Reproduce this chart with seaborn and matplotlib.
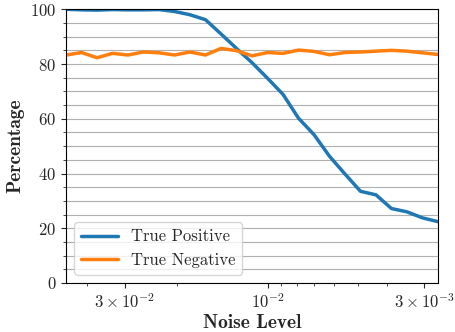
import numpy as np
import pandas as pd
import matplotlib
matplotlib.use("Agg")
import matplotlib.pyplot as plt
import matplotlib.ticker as mticker
import seaborn as sns

# Noise levels (log-spaced)
noise_level = [0.04713, 0.04183, 0.03714, 0.03296, 0.02926, 0.02597, 0.02305,
               0.02046, 0.01816, 0.01612, 0.01431, 0.01270, 0.01127, 0.01000,
               0.008876, 0.007878, 0.006993, 0.006207, 0.005508, 0.004889,
               0.004340, 0.003852, 0.003419, 0.003035, 0.002693]

true_positive = [100.0, 99.8, 99.7, 99.9, 99.8, 99.8, 99.9, 99.2, 98.0, 96.2,
                 91.0, 85.7, 80.5, 74.8, 68.9, 60.2, 54.2, 46.3, 39.8, 33.5,
                 32.2, 27.2, 26.0, 23.8, 22.4]

true_negative = [83.3, 84.2, 82.3, 83.9, 83.3, 84.4, 84.1, 83.3, 84.4, 83.3,
                 85.7, 84.9, 83.0, 84.2, 83.9, 85.1, 84.6, 83.4, 84.2, 84.4,
                 84.7, 85.0, 84.7, 84.1, 83.5]

series_names = ["True Positive", "True Negative"]

df = pd.DataFrame({
    "noise": noise_level * 2,
    "value": true_positive + true_negative,
    "series": [series_names[0]] * len(noise_level) + [series_names[1]] * len(noise_level),
})

sns.set_style("ticks")
plt.rcParams["font.family"] = "serif"
plt.rcParams["font.serif"] = ["cmr10"]
plt.rcParams["mathtext.fontset"] = "cm"
plt.rcParams["axes.formatter.use_mathtext"] = True
plt.rcParams["axes.unicode_minus"] = False

fig, ax = plt.subplots(figsize=(4.56, 3.32), dpi=100)
fig.subplots_adjust(left=0.145, right=0.9605, top=0.972, bottom=0.1476)

sns.lineplot(data=df, x="noise", y="value", hue="series",
             palette=["#1f77b4", "#ff7f0e"], linewidth=2.5, ax=ax)

ax.set_xscale("log")
ax.set_xlim(noise_level[0], noise_level[-1])
ax.set_ylim(0, 100)

# x ticks
ax.xaxis.set_major_locator(mticker.FixedLocator([3e-2, 1e-2, 3e-3]))
ax.xaxis.set_major_formatter(mticker.FixedFormatter(
    [r"$3\times10^{-2}$", r"$10^{-2}$", r"$3\times10^{-3}$"]))
ax.xaxis.set_minor_locator(mticker.LogLocator(base=10, subs=np.arange(2, 10)))
ax.xaxis.set_minor_formatter(mticker.NullFormatter())

# y ticks
ax.yaxis.set_major_locator(mticker.MultipleLocator(20))
ax.yaxis.set_minor_locator(mticker.MultipleLocator(5))
ax.grid(axis="y", which="both", color="#b0b0b0", linewidth=0.8)
ax.set_axisbelow(True)

ax.tick_params(axis="both", which="major", labelsize=12)
for sp in ax.spines.values():
    sp.set_color("black")

ax.set_xlabel("Noise Level", fontname="cmb10", fontsize=14, labelpad=2)
ax.set_ylabel("Percentage", fontname="cmb10", fontsize=14, labelpad=4)

ax.legend(title=None, loc="lower left", fontsize=12, framealpha=0.8,
          handlelength=2.2, borderaxespad=0.5)

fig.savefig("out.png", dpi=100)
